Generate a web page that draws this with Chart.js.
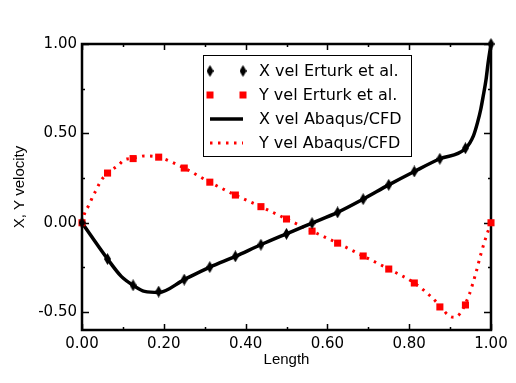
<!DOCTYPE html>
<html>
<head>
<meta charset="utf-8">
<script src="https://cdn.jsdelivr.net/npm/chart.js@4/dist/chart.umd.min.js"></script>
<style>
html,body{margin:0;padding:0;background:#fff;}
canvas{display:block;}
</style>
</head>
<body>
<canvas id="c" width="516" height="383"></canvas>
<script>
// ---- Data ----
const lengthErturk = [0, 0.0625, 0.125, 0.1875, 0.25, 0.3125, 0.375, 0.4375, 0.5, 0.5625, 0.625, 0.6875, 0.75, 0.8125, 0.875, 0.9375, 1.0];
const xVelErturk   = [0, -0.203, -0.350, -0.385, -0.318, -0.248, -0.188, -0.123, -0.062, -0.002, 0.058, 0.132, 0.212, 0.287, 0.358, 0.417, 1.0];
const yVelErturk   = [0, 0.278, 0.359, 0.367, 0.306, 0.227, 0.155, 0.090, 0.021, -0.047, -0.114, -0.186, -0.259, -0.337, -0.471, -0.460, 0];

const lengthCfdX = [0, 0.023, 0.0625, 0.096, 0.125, 0.153, 0.1875, 0.25, 0.3125, 0.375, 0.4375, 0.5, 0.5625, 0.625, 0.6875, 0.75, 0.8125, 0.875, 0.9375, 0.957, 0.967, 0.975, 0.981, 0.988, 0.993, 1.0];
const xVelCfd    = [0, -0.076, -0.203, -0.300, -0.350, -0.384, -0.390, -0.318, -0.248, -0.188, -0.123, -0.062, -0.002, 0.058, 0.132, 0.212, 0.287, 0.358, 0.415, 0.486, 0.560, 0.635, 0.709, 0.803, 0.895, 1.0];

const lengthCfdY = [0, 0.008, 0.015, 0.021, 0.027, 0.035, 0.043, 0.051, 0.0625, 0.090, 0.103, 0.125, 0.153, 0.1875, 0.25, 0.3125, 0.375, 0.4375, 0.5, 0.5625, 0.625, 0.6875, 0.75, 0.8125, 0.855, 0.875, 0.897, 0.910, 0.924, 0.946, 0.963, 0.976, 0.987, 1.0];
const yVelCfd    = [0, 0.063, 0.091, 0.119, 0.151, 0.184, 0.222, 0.250, 0.278, 0.324, 0.352, 0.361, 0.374, 0.367, 0.306, 0.227, 0.155, 0.090, 0.021, -0.047, -0.114, -0.186, -0.259, -0.337, -0.417, -0.465, -0.520, -0.529, -0.508, -0.406, -0.281, -0.169, -0.086, 0];

const seriesLabels = ['X vel Erturk et al.', 'Y vel Erturk et al.', 'X vel Abaqus/CFD', 'Y vel Abaqus/CFD'];
const xTickLabels = [0, 0.2, 0.4, 0.6, 0.8, 1.0];
const yTickLabels = [-0.5, 0, 0.5, 1.0];
const xTickMarks = [0, 0.1, 0.2, 0.3, 0.4, 0.5, 0.6, 0.7, 0.8, 0.9, 1.0];
const yTickMarks = [-0.5, -0.25, 0, 0.25, 0.5, 0.75, 1.0];
const xTitle = 'Length';
const yTitle = 'X, Y velocity';

// ---- Helpers ----
const pts = (xs, ys) => xs.map((x, i) => ({x: x, y: ys[i]}));

// elongated diamond marker
const diamond = document.createElement('canvas');
diamond.width = 7; diamond.height = 12;
(function(){
  const g = diamond.getContext('2d');
  g.fillStyle = '#000';
  g.beginPath();
  g.moveTo(3.5, 0); g.lineTo(7, 6); g.lineTo(3.5, 12); g.lineTo(0, 6); g.closePath();
  g.fill();
})();

const RED = '#ff0000';
const DOT = [2.5, 5.5];

const framePlugin = {
  id: 'frame',
  beforeDatasetsDraw(chart) {
    const {ctx, chartArea: a, scales} = chart;
    ctx.save();
    ctx.strokeStyle = '#000';
    ctx.lineWidth = 1.5;
    xTickMarks.forEach(v => {
      const px = Math.round(scales.x.getPixelForValue(v)) + 0.5;
      const major = Math.abs(v * 5 - Math.round(v * 5)) < 1e-6;
      const len = major ? 6 : 3;
      ctx.beginPath();
      ctx.moveTo(px, a.bottom); ctx.lineTo(px, a.bottom - len);
      ctx.moveTo(px, a.top); ctx.lineTo(px, a.top + len);
      ctx.stroke();
    });
    yTickMarks.forEach(v => {
      const py = Math.round(scales.y.getPixelForValue(v)) + 0.5;
      const major = Math.abs(v * 2 - Math.round(v * 2)) < 1e-6;
      const len = major ? 7 : 3;
      ctx.beginPath();
      ctx.moveTo(a.left, py); ctx.lineTo(a.left + len, py);
      ctx.moveTo(a.right, py); ctx.lineTo(a.right - len, py);
      ctx.stroke();
    });
    ctx.lineWidth = 2.5;
    ctx.strokeRect(a.left, a.top, a.right - a.left, a.bottom - a.top);
    ctx.restore();
  }
};

const legendPlugin = {
  id: 'boxLegend',
  afterDraw(chart) {
    const ctx = chart.ctx;
    const bx = 203.5, by = 55.5, bw = 208, bh = 101;
    ctx.save();
    ctx.fillStyle = '#fff';
    ctx.fillRect(bx, by, bw, bh);
    ctx.strokeStyle = '#000';
    ctx.lineWidth = 1;
    ctx.strokeRect(bx, by, bw, bh);
    const rows = [71, 95, 119, 143];
    const x1 = 210, x2 = 243;
    chart.data.datasets.forEach((ds, i) => {
      const y = rows[i];
      if (ds.showLine === false) {
        [x1, x2].forEach(x => {
          if (ds.pointStyle === diamond) {
            ctx.drawImage(diamond, x - 3.5, y - 6);
          } else {
            ctx.fillStyle = ds.pointBackgroundColor;
            ctx.fillRect(x - 3.5, y - 3.5, 7, 7);
          }
        });
      } else {
        ctx.strokeStyle = ds.borderColor;
        ctx.lineWidth = ds.borderWidth;
        ctx.setLineDash(ds.borderDash || []);
        ctx.beginPath();
        ctx.moveTo(x1, y); ctx.lineTo(x2, y);
        ctx.stroke();
        ctx.setLineDash([]);
      }
      ctx.fillStyle = '#000';
      ctx.font = '16px "DejaVu Sans"';
      ctx.textBaseline = 'middle';
      ctx.textAlign = 'left';
      ctx.fillText(ds.label, 259, y + 1);
    });
    ctx.restore();
  }
};

new Chart(document.getElementById('c'), {
  type: 'scatter',
  data: {
    datasets: [
      {
        label: seriesLabels[0],
        data: pts(lengthErturk, xVelErturk),
        showLine: false,
        pointStyle: diamond,
        pointRadius: 6,
        pointBackgroundColor: '#000',
        borderColor: '#000',
        clip: false
      },
      {
        label: seriesLabels[1],
        data: pts(lengthErturk, yVelErturk),
        showLine: false,
        pointStyle: 'rect',
        pointRadius: 5,
        pointBorderWidth: 0,
        pointBackgroundColor: RED,
        borderColor: RED,
        clip: false
      },
      {
        label: seriesLabels[2],
        data: pts(lengthCfdX, xVelCfd),
        showLine: true,
        pointRadius: 0,
        borderColor: '#000',
        borderWidth: 3.5,
        cubicInterpolationMode: 'monotone',
        clip: false
      },
      {
        label: seriesLabels[3],
        data: pts(lengthCfdY, yVelCfd),
        showLine: true,
        pointRadius: 0,
        borderColor: RED,
        borderWidth: 3,
        borderDash: DOT,
        cubicInterpolationMode: 'monotone',
        clip: false
      }
    ]
  },
  options: {
    responsive: false,
    animation: false,
    events: [],
    layout: { padding: { top: 44, right: 25, left: 0, bottom: 0 } },
    plugins: { legend: { display: false }, tooltip: { enabled: false } },
    scales: {
      x: {
        type: 'linear',
        min: 0, max: 1,
        afterBuildTicks: axis => { axis.ticks = xTickLabels.map(v => ({value: v})); },
        afterFit: s => { s.height = 53; },
        grid: { display: false, drawTicks: false },
        border: { display: false },
        ticks: {
          padding: 5,
          color: '#000',
          font: { family: 'DejaVu Sans', size: 15 },
          maxRotation: 0,
          autoSkip: false,
          callback: v => Number(v).toFixed(2)
        },
        title: {
          display: true,
          text: xTitle,
          color: '#000',
          font: { family: 'Liberation Sans', size: 15 },
          padding: { top: 0, bottom: 14 }
        }
      },
      y: {
        type: 'linear',
        min: -0.6, max: 1.0,
        afterBuildTicks: axis => { axis.ticks = yTickLabels.map(v => ({value: v})); },
        afterFit: s => { s.width = 82; },
        grid: { display: false, drawTicks: false },
        border: { display: false },
        ticks: {
          padding: 5,
          color: '#000',
          font: { family: 'DejaVu Sans', size: 15 },
          autoSkip: false,
          callback: v => Number(v).toFixed(2)
        },
        title: {
          display: true,
          text: yTitle,
          color: '#000',
          font: { family: 'Liberation Sans', size: 15 },
          padding: { top: 11, bottom: 0 }
        }
      }
    }
  },
  plugins: [framePlugin, legendPlugin]
});
</script>
</body>
</html>
